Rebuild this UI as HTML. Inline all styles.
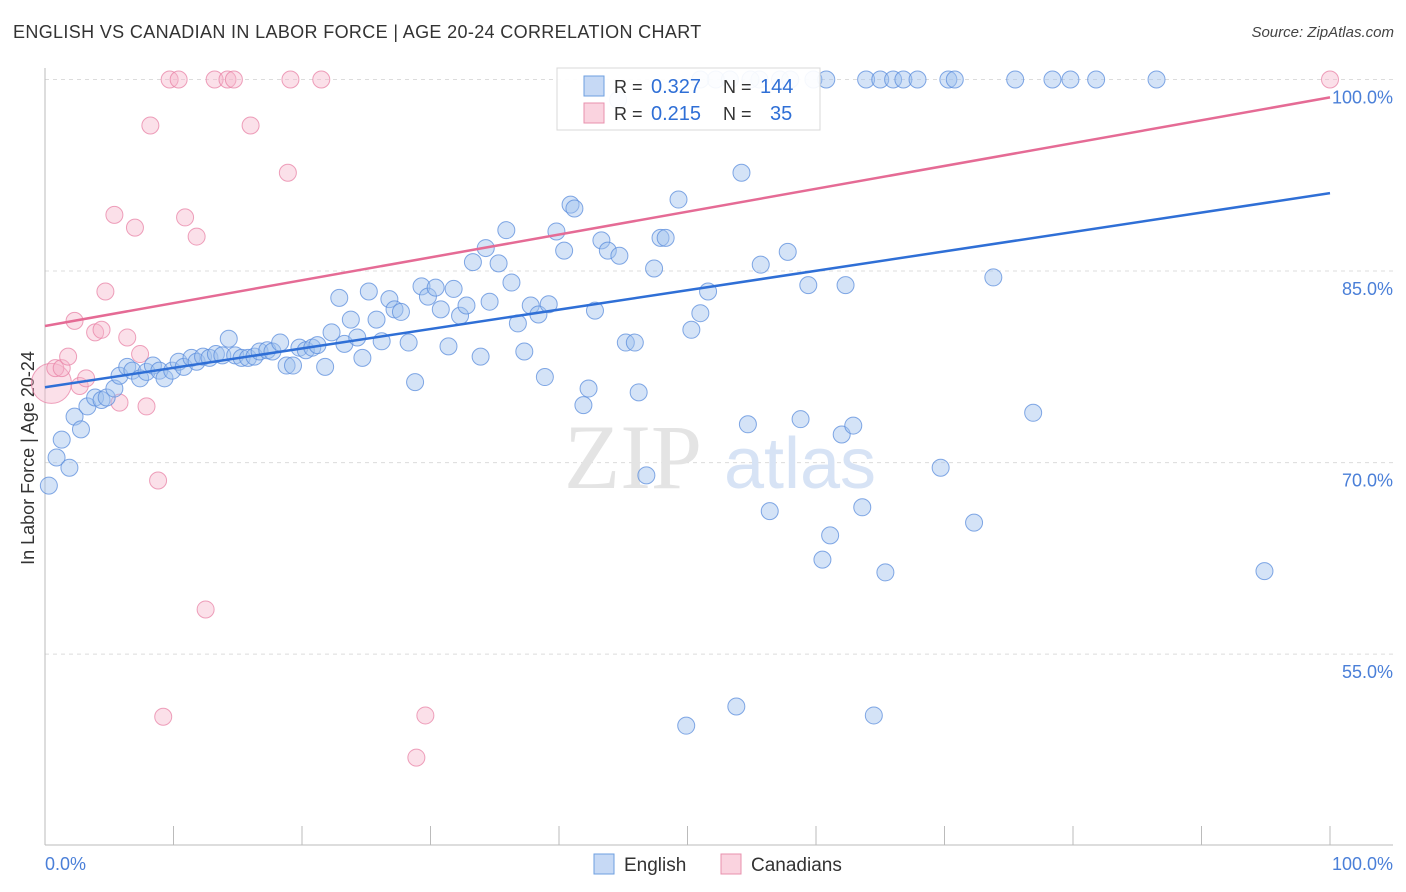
<!DOCTYPE html>
<html><head><meta charset="utf-8">
<style>
body{margin:0;background:#fff;font-family:"Liberation Sans",sans-serif;}
#wrap{position:relative;width:1406px;height:892px;overflow:hidden;}
.t{position:absolute;white-space:nowrap;}
</style></head>
<body>
<div id="wrap">
<div class="t" style="left:13px;top:22px;font-size:18px;color:#333;letter-spacing:0.35px">ENGLISH VS CANADIAN IN LABOR FORCE | AGE 20-24 CORRELATION CHART</div>
<div class="t" style="right:12px;top:24px;font-size:15px;color:#444;font-style:italic">Source: ZipAtlas.com</div>
<svg id="chart" width="1406" height="892" style="position:absolute;left:0;top:0"></svg>
</div>
<script>
const englishX=[0.3,0.9,1.3,1.9,2.3,2.8,3.3,3.9,4.4,4.8,5.4,5.8,6.4,6.8,7.4,7.9,8.4,8.9,9.3,9.9,10.4,10.8,11.4,11.8,12.3,12.8,13.3,13.8,14.3,14.8,15.3,15.8,16.3,16.7,17.3,17.7,18.3,18.8,19.3,19.8,20.3,20.8,21.2,21.8,22.3,22.9,23.3,23.8,24.3,24.7,25.2,25.8,26.2,26.8,27.2,27.7,28.3,28.8,29.3,29.8,30.4,30.8,31.4,31.8,32.3,32.8,33.3,33.9,34.3,34.6,35.3,35.9,36.3,36.8,37.3,37.8,38.4,38.9,39.2,39.8,40.4,40.9,41.2,41.9,42.3,42.8,43.3,43.8,44.6,44.7,45.2,45.9,46.2,46.8,47.4,47.9,48.3,49.3,49.9,50.3,51.0,51.6,52.2,53.8,54.2,54.7,55.6,55.7,56.4,57.2,57.8,58.8,59.4,59.8,60.5,60.8,61.1,62.0,62.3,62.9,63.6,63.9,64.5,65.0,65.4,66.0,66.8,67.9,69.7,70.3,70.8,72.3,73.8,75.5,76.9,78.4,79.8,81.8,86.5,94.9,51.0,53.3,54.9,58.0];
const englishY=[68.2,70.4,71.8,69.6,73.6,72.6,74.4,75.1,74.9,75.1,75.8,76.8,77.5,77.2,76.6,77.1,77.6,77.2,76.6,77.2,77.9,77.5,78.2,77.9,78.3,78.2,78.5,78.4,79.7,78.4,78.2,78.2,78.3,78.7,78.8,78.7,79.4,77.6,77.6,79.0,78.8,79.0,79.2,77.5,80.2,82.9,79.3,81.2,79.8,78.2,83.4,81.2,79.5,82.8,82.0,81.8,79.4,76.3,83.8,83.0,83.7,82.0,79.1,83.6,81.5,82.3,85.7,78.3,86.8,82.6,85.6,88.2,84.1,80.9,78.7,82.3,81.6,76.7,82.4,88.1,86.6,90.2,89.9,74.5,75.8,81.9,87.4,86.6,98.4,86.2,79.4,79.4,75.5,69.0,85.2,87.6,87.6,90.6,49.4,80.4,81.7,83.4,100,50.9,92.7,73.0,100,85.5,66.2,100,86.5,73.4,83.9,100,62.4,100,64.3,72.2,83.9,72.9,66.5,100,50.2,100,61.4,100,100,100,69.6,100,100,65.3,84.5,100,73.9,100,100,100,100,61.5,100,100,100,100];
const canadX=[0.5,0.8,1.3,1.8,2.3,2.7,3.2,3.9,4.4,4.7,5.4,5.8,6.4,7.0,7.4,7.9,8.2,8.8,9.2,9.7,10.4,10.9,11.8,12.5,13.2,14.2,14.7,16.0,18.9,19.1,21.5,28.9,29.6,100];
const canadY=[76.2,77.4,77.4,78.3,81.1,76.0,76.6,80.2,80.4,83.4,89.4,74.7,79.8,88.4,78.5,74.4,96.4,68.6,50.1,100,100,89.2,87.7,58.5,100,100,100,96.4,92.7,100,100,46.9,50.2,100];
const englishTrend=[75.9,91.1];
const canadTrend=[80.7,98.6];
const yTicks=[100,85,70,55];
const xTicks=[0,10,20,30,40,50,60,70,80,90,100];

const NS='http://www.w3.org/2000/svg';
const svg=document.getElementById('chart');
const X0=45,X1=1330,Y100=79.5,PXPER=12.77;
function sx(v){return X0+(X1-X0)*v/100;}
function sy(v){return Y100+(100-v)*PXPER;}
function mk(tag,attrs){const e=document.createElementNS(NS,tag);for(const k in attrs)e.setAttribute(k,attrs[k]);svg.appendChild(e);return e;}

yTicks.forEach(t=>{
  const g=mk('line',{x1:45,x2:1393,y1:sy(t),y2:sy(t),stroke:'#dcdcdc','stroke-dasharray':'4,4','stroke-width':1});
  
  
  const l=mk('text',{x:1393,y:sy(t)+24,'text-anchor':'end','font-size':18,fill:'#4a7fd8','font-family':'Liberation Sans, sans-serif'});
  l.textContent=t.toFixed(1)+'%';
  
  
});
const ax=mk('line',{x1:45,x2:45,y1:68,y2:845,stroke:'#bbb','stroke-width':1});


const bx=mk('line',{x1:45,x2:1393,y1:845,y2:845,stroke:'#bbb','stroke-width':1});


xTicks.forEach(t=>{
  const k=mk('line',{x1:sx(t),x2:sx(t),y1:826,y2:845,stroke:'#bbb','stroke-width':1});
  
  
});
[[0,'start',45],[100,'end',1393]].forEach(a=>{
  const l=mk('text',{x:a[2],y:870,'text-anchor':a[1],'font-size':18,fill:'#4a7fd8','font-family':'Liberation Sans, sans-serif'});
  l.textContent=a[0].toFixed(1)+'%';
  
  
});
const yt=mk('text',{x:0,y:0,transform:'translate(34,458) rotate(-90)','text-anchor':'middle','font-size':18,fill:'#333','font-family':'Liberation Sans, sans-serif'});
yt.textContent='In Labor Force | Age 20-24';



const w1=mk('text',{x:633,y:488,'text-anchor':'middle','font-size':92,fill:'#e4e4e4','font-family':'Liberation Serif, serif'});
w1.textContent='ZIP';


const w2=mk('text',{x:800,y:488,'text-anchor':'middle','font-size':72,fill:'#d7e3f5','font-family':'Liberation Sans, sans-serif'});
w2.textContent='atlas';



canadX.forEach((x,i)=>{
  const c=mk('circle',{cx:sx(x),cy:sy(canadY[i]),r:i===0?20:8.5,fill:'rgba(246,182,202,0.42)',stroke:'rgba(232,130,165,0.75)','stroke-width':1});
  
  
});
englishX.forEach((x,i)=>{
  const c=mk('circle',{cx:sx(x),cy:sy(englishY[i]),r:8.5,fill:'rgba(160,192,238,0.45)',stroke:'rgba(90,140,220,0.75)','stroke-width':1});
  
  
});
const tb=mk('line',{x1:sx(0),y1:sy(englishTrend[0]),x2:sx(100),y2:sy(englishTrend[1]),stroke:'#2f6fd6','stroke-width':2.5});


const tp=mk('line',{x1:sx(0),y1:sy(canadTrend[0]),x2:sx(100),y2:sy(canadTrend[1]),stroke:'#e56b95','stroke-width':2.5});



const lb=mk('rect',{x:557,y:68,width:263,height:62,fill:'rgba(255,255,255,0.92)',stroke:'#d8d8d8'});


[[76,'rgba(160,192,238,0.6)','#6e9fe0','0.327','144',93,760],[103,'rgba(246,182,202,0.6)','#e890ae','0.215','35',120,770]].forEach((r,i)=>{
  const s=mk('rect',{x:584,y:r[0],width:20,height:20,fill:r[1],stroke:r[2]});
  
  
  const parts=[[614,'R =','#333'],[651,r[3],'#2f6fd6'],[723,'N =','#333'],[r[6],r[4],'#2f6fd6']];
  parts.forEach(p=>{
    const t=mk('text',{x:p[0],y:r[5],'font-size':p[2]==='#333'?18:20,fill:p[2],'font-family':'Liberation Sans, sans-serif'});
    t.textContent=p[1];
    
    
  });
});
[[594,'rgba(160,192,238,0.6)','#6e9fe0','English'],[721,'rgba(246,182,202,0.6)','#e890ae','Canadians']].forEach((r,i)=>{
  const s=mk('rect',{x:r[0],y:854,width:20,height:20,fill:r[1],stroke:r[2]});
  
  
  const t=mk('text',{x:r[0]+30,y:871,'font-size':19,fill:'#333','font-family':'Liberation Sans, sans-serif'});
  t.textContent=r[3];
  
  
});
</script>
</body></html>
